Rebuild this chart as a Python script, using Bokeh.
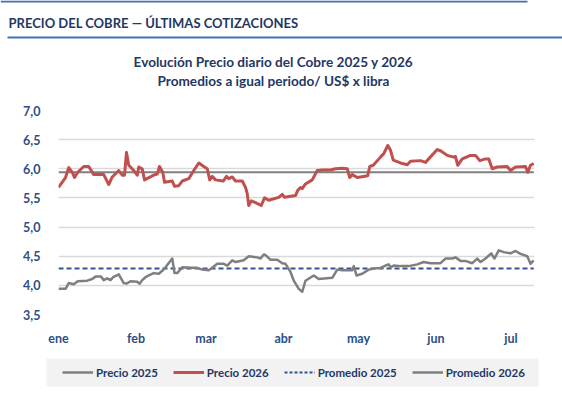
from bokeh.plotting import figure
from bokeh.layouts import column
from bokeh.models import (Legend, LegendItem, FixedTicker, CustomJSTickFormatter, Range1d)
from bokeh.core.properties import value
from bokeh.embed import file_html
from bokeh.resources import INLINE

# ---------------- data ----------------
meses = ["ene", "feb", "mar", "abr", "may", "jun", "jul"]
dia_inicio_mes = [0, 31, 59, 90, 120, 151, 181]
y_ticks = [3.5, 4.0, 4.5, 5.0, 5.5, 6.0, 6.5, 7.0]

dias_2026 = [0, 2.8, 4.1, 5.5, 6.4, 7.7, 10.1, 12.1, 14.1, 18.1, 20.1, 21.5, 24.1, 25.5,
             26.4, 27.2, 28.1, 30.1, 31.5, 32.1, 33.5, 34.4, 38.1, 39.5, 40.4, 41.7,
             42.4, 45.5, 46.4, 48.1, 49.5, 52.1, 54.1, 56.1, 58.1, 59.5, 60.5, 61.5,
             62.8, 65.9, 67.2, 68.1, 69.5, 70.8, 73.5, 74.8, 75.5, 76.1, 77.1, 78.8,
             81.1, 82.4, 84.1, 88.1, 89.5, 90.4, 94.8, 95.7, 96.8, 97.5, 98.8, 101.5,
             103.5, 105.5, 108.8, 110.8, 113.5, 115.5, 116.5, 117.5, 119.5, 123.7,
             124.5, 125.9, 128.8, 130.1, 131.7, 132.8, 133.9, 136.8, 139.5, 140.8,
             144.8, 146.8, 151.5, 152.8, 155.5, 158.1, 158.8, 159.7, 161.5, 164.8,
             166.8, 168.5, 170.8, 172.1, 173.5, 175.5, 179.5, 180.8, 182.8, 186.8,
             187.7, 188.8, 190.1]
precio_2026 = [5.68, 5.85, 6.02, 5.94, 5.85, 5.94, 6.04, 6.04, 5.90, 5.90, 5.73, 5.86,
               5.97, 5.89, 5.89, 6.28, 6.06, 5.97, 5.89, 6.03, 6.00, 5.81, 5.89, 5.91,
               6.04, 5.94, 5.77, 5.79, 5.70, 5.71, 5.79, 5.83, 5.97, 6.10, 6.04, 6.00,
               5.81, 5.87, 5.81, 5.79, 5.87, 5.83, 5.86, 5.79, 5.79, 5.68, 5.57, 5.37,
               5.45, 5.42, 5.37, 5.50, 5.46, 5.51, 5.56, 5.51, 5.54, 5.63, 5.68, 5.66,
               5.74, 5.81, 5.97, 5.98, 5.98, 6.00, 6.01, 6.00, 5.85, 5.90, 5.85, 5.88,
               6.04, 6.06, 6.20, 6.26, 6.40, 6.32, 6.15, 6.10, 6.07, 6.13, 6.14, 6.11,
               6.33, 6.31, 6.23, 6.20, 6.21, 6.06, 6.17, 6.23, 6.23, 6.14, 6.17, 6.17,
               6.00, 6.03, 6.04, 5.97, 6.03, 6.04, 5.94, 6.06, 6.09]

dias_2025 = [0, 2.8, 4.1, 6.1, 7.7, 11.5, 13.5, 14.8, 17.0, 18.1, 19.5, 20.8, 21.9,
             24.1, 26.1, 27.2, 28.8, 31.5, 32.5, 33.5, 34.8, 36.1, 38.1, 40.1, 41.5,
             42.8, 45.5, 46.4, 47.5, 49.5, 53.5, 55.5, 57.5, 60.1, 61.1, 63.5, 66.1,
             67.5, 69.5, 70.8, 74.1, 76.1, 79.5, 80.8, 82.1, 82.8, 84.8, 87.5, 89.5,
             90.8, 92.8, 94.1, 96.1, 97.5, 98.8, 102.1, 104.1, 109.5, 111.5, 113.5,
             117.5, 118.1, 119.2, 121.5, 124.1, 126.1, 128.8, 130.8, 132.1, 132.8,
             134.1, 136.8, 140.1, 143.5, 146.1, 148.8, 152.8, 154.8, 157.5, 158.8,
             160.8, 162.8, 165.5, 167.5, 168.8, 170.8, 173.1, 174.4, 176.1, 178.1,
             180.8, 182.8, 184.8, 187.5, 188.8, 190.1]
precio_2025 = [3.94, 3.94, 4.04, 4.02, 4.07, 4.08, 4.11, 4.15, 4.15, 4.09, 4.12, 4.09,
               4.14, 4.19, 4.04, 4.03, 4.07, 4.06, 4.03, 4.09, 4.14, 4.17, 4.21, 4.20,
               4.25, 4.31, 4.46, 4.21, 4.21, 4.31, 4.30, 4.30, 4.27, 4.26, 4.29, 4.37,
               4.37, 4.34, 4.43, 4.40, 4.43, 4.50, 4.48, 4.46, 4.53, 4.52, 4.44, 4.44,
               4.38, 4.37, 4.23, 4.08, 3.94, 3.89, 4.08, 4.17, 4.11, 4.13, 4.27, 4.26,
               4.26, 4.33, 4.17, 4.20, 4.27, 4.29, 4.30, 4.34, 4.36, 4.31, 4.34, 4.33,
               4.33, 4.36, 4.40, 4.38, 4.38, 4.46, 4.46, 4.48, 4.42, 4.42, 4.38, 4.46,
               4.40, 4.46, 4.55, 4.46, 4.60, 4.57, 4.55, 4.59, 4.54, 4.50, 4.37, 4.43]

promedio_2025 = 4.29
promedio_2026 = 5.94

encabezado = "PRECIO DEL COBRE — ÚLTIMAS COTIZACIONES"
titulo_1 = "Evolución Precio diario del Cobre 2025 y 2026"
titulo_2 = "Promedios a igual periodo/ US$ x libra"
etiquetas = ["Precio 2025", "Precio 2026", "Promedio 2025", "Promedio 2026"]

# ---------------- styles ----------------
W = 562
FONT = "Lato"
NAVY = "#1f3864"
TICK = "#2b4f85"
RULE = "#3d72b4"
C_25 = "#7f7f7f"
C_26 = "#c0504d"
C_AVG25 = "#2f5597"
C_AVG26 = "#7f7f7f"


def blank(height):
    f = figure(width=W, height=height, output_backend="svg", toolbar_location=None,
               x_range=Range1d(0, W), y_range=Range1d(height, 0),
               x_axis_type=None, y_axis_type=None,
               min_border=0, min_border_left=0, min_border_right=0,
               min_border_top=0, min_border_bottom=0, frame_align=False)
    f.outline_line_color = None
    f.grid.visible = False
    f.background_fill_color = "white"
    f.border_fill_color = "white"
    return f


# ---------------- header ----------------
HEAD_H = 100
head = blank(HEAD_H)
head.segment(x0=[0, 7], y0=[1, 37], x1=[527, W], y1=[1, 37], line_color=RULE, line_width=2)
head.text(x=[8], y=[22], text=[encabezado], text_font=value(FONT), text_font_style="bold",
          text_font_size="13px", text_color=NAVY, text_baseline="middle", text_align="left")
head.text(x=[273, 273], y=[61, 80], text=[titulo_1, titulo_2], text_font=value(FONT),
          text_font_style="bold", text_font_size="13.6px", text_color=NAVY,
          text_baseline="middle", text_align="center")

# ---------------- chart ----------------
MAIN_H = 250
p = figure(width=W, height=MAIN_H, output_backend="svg", toolbar_location=None,
           x_range=Range1d(0, 190.4), y_range=Range1d(3.5, 7.0),
           min_border_left=58, min_border_right=28,
           min_border_top=10, min_border_bottom=36, frame_align=False)
p.outline_line_color = None
p.background_fill_color = "white"
p.border_fill_color = "white"

p.xgrid.visible = False
p.ygrid.grid_line_color = "#d9d9d9"
p.ygrid.grid_line_width = 1.5

p.yaxis.ticker = FixedTicker(ticks=y_ticks)
p.yaxis.formatter = CustomJSTickFormatter(code="return tick.toFixed(1).replace('.', ',')")
p.xaxis.ticker = FixedTicker(ticks=dia_inicio_mes)
p.xaxis.formatter = CustomJSTickFormatter(
    args=dict(dias=dia_inicio_mes, meses=meses),
    code="const i = dias.indexOf(tick); return i >= 0 ? meses[i] : '';")
for ax in (p.xaxis[0], p.yaxis[0]):
    ax.axis_line_color = None
    ax.major_tick_line_color = None
    ax.minor_tick_line_color = None
    ax.major_label_text_font = FONT
    ax.major_label_text_font_style = "bold"
    ax.major_label_text_font_size = "12.5px"
    ax.major_label_text_color = TICK
p.yaxis.major_label_standoff = 12
p.xaxis.major_label_standoff = 10

p.line([dias_2025[0], dias_2025[-1]], [promedio_2025, promedio_2025],
       line_color=C_AVG25, line_width=2, line_dash="5 3")
p.line([dias_2026[0], dias_2026[-1]], [promedio_2026, promedio_2026],
       line_color=C_AVG26, line_width=2)
p.line(dias_2025, precio_2025, line_color=C_25, line_width=2.5, line_join="round")
p.line(dias_2026, precio_2026, line_color=C_26, line_width=3, line_join="round")

# ---------------- legend ----------------
FOOT_H = 400 - HEAD_H - MAIN_H
foot = blank(FOOT_H)
foot.quad(left=[46], right=[538], top=[8], bottom=[36], fill_color="#f2f2f2", line_color=None)
l25 = foot.line([-50, -40], [-50, -50], line_color=C_25, line_width=2.5)
l26 = foot.line([-50, -40], [-50, -50], line_color=C_26, line_width=3)
la25 = foot.line([-50, -40], [-50, -50], line_color=C_AVG25, line_width=2, line_dash="3 2")
la26 = foot.line([-50, -40], [-50, -50], line_color=C_AVG26, line_width=2.5)
legend = Legend(items=[LegendItem(label=etiquetas[0], renderers=[l25]),
                       LegendItem(label=etiquetas[1], renderers=[l26]),
                       LegendItem(label=etiquetas[2], renderers=[la25]),
                       LegendItem(label=etiquetas[3], renderers=[la26])],
                orientation="horizontal", location=(62, FOOT_H - 22 - 8),
                glyph_width=31, glyph_height=16, label_height=16,
                label_standoff=3, spacing=15, padding=0, margin=0,
                background_fill_alpha=0, border_line_color=None,
                label_text_font=FONT, label_text_font_style="bold",
                label_text_font_size="11.5px", label_text_color=NAVY)
foot.add_layout(legend)

layout = column(head, p, foot, spacing=0)
open("out.html", "w").write(file_html(layout, INLINE))
